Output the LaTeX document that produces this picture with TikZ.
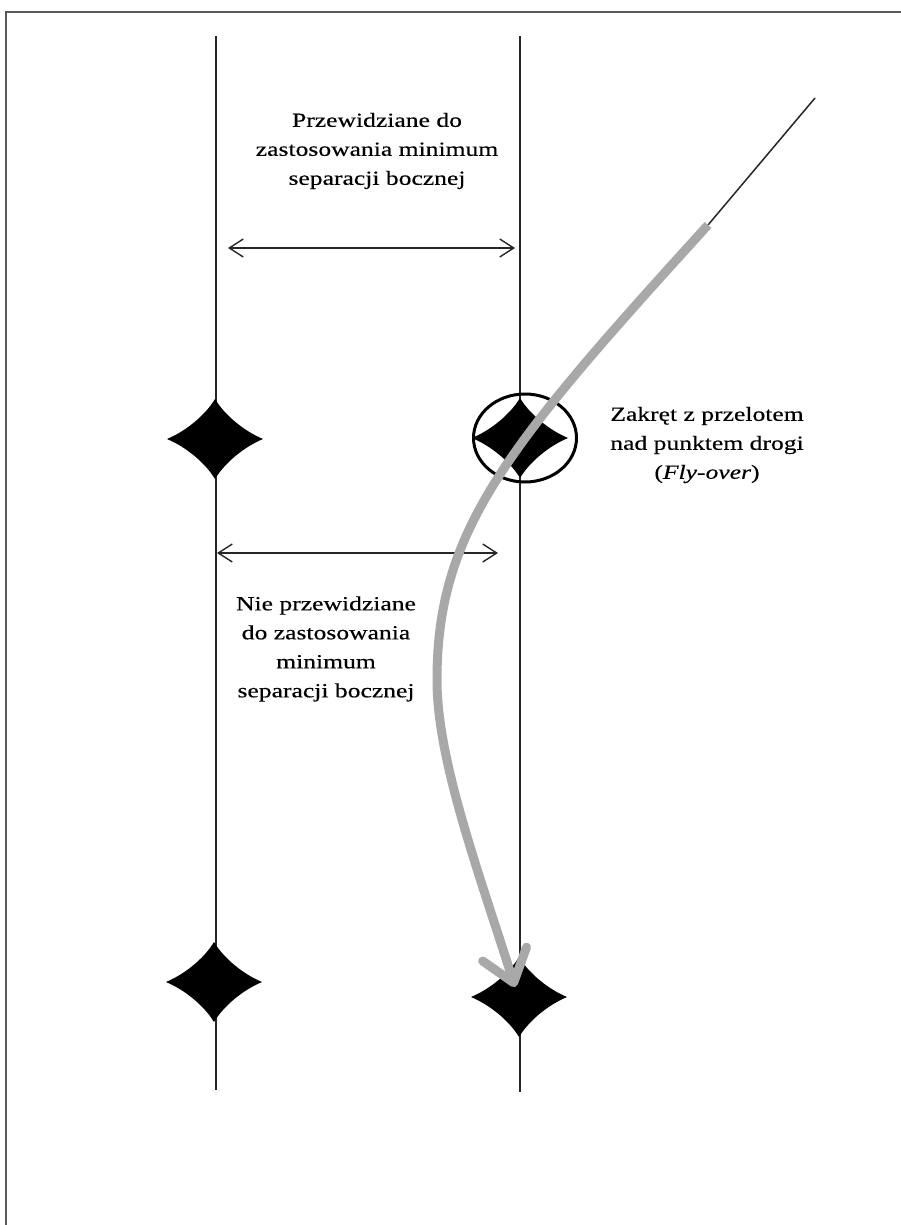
\documentclass[tikz,border=0pt]{standalone}
\usepackage{fontspec}
\setmainfont{Liberation Serif}[FakeStretch=1.28,FakeBold=0.4]
\usetikzlibrary{arrows.meta,shapes.geometric}
\definecolor{flightgray}{RGB}{168,168,168}
\definecolor{framegray}{RGB}{90,90,90}
\begin{document}
\begin{tikzpicture}[x=1pt,y=-1pt,
  route/.style={line width=1.4pt, draw=black!85},
  sep/.style={line width=1.4pt, draw=black!85,
    {Straight Barb[length=14pt,width=18pt]}-{Straight Barb[length=14pt,width=18pt]}},
  lbl/.style={font=\fontsize{20}{29}\selectfont, align=center, inner sep=0pt},
  flight/.style={line width=9pt, draw=flightgray},
  wpt/.pic={\fill[black] (0,-40) .. controls (9.6,-24) and (28.8,-8) .. (48,0)
      .. controls (28.8,8) and (9.6,24) .. (0,40)
      .. controls (-9.6,24) and (-28.8,8) .. (-48,0)
      .. controls (-28.8,-8) and (-9.6,-24) .. cycle;}]
\useasboundingbox (0,0) rectangle (901,1225);
% frame
\coordinate (f0) at (901,12);
\coordinate (f1) at (6,12);
\coordinate (f2) at (6,1225);
\draw[line width=2pt, draw=framegray] (f0) -- (f1) -- (f2);
% routes
\coordinate (L0) at (216,36);
\coordinate (L1) at (216,1090);
\coordinate (R0) at (520,36);
\coordinate (R1) at (520,1092);
\draw[route] (L0) -- (L1);
\draw[route] (R0) -- (R1);
% waypoints
\coordinate (wL1) at (215,439);
\coordinate (wR1) at (520,438);
\coordinate (wL2) at (214,982);
\coordinate (wR2) at (519,997);
\pic at (wL1) {wpt};
\pic at (wR1) {wpt};
\pic at (wL2) {wpt};
\pic at (wR2) {wpt};
\node[draw, ellipse, line width=3pt, minimum width=103pt, minimum height=88pt, inner sep=0pt] (fo) at (525,438) {};
% separation arrows
\coordinate (a0) at (228,248);
\coordinate (a1) at (515,248);
\draw[sep] (a0) -- (a1);
\coordinate (b0) at (217,553);
\coordinate (b1) at (498,553);
\draw[sep] (b0) -- (b1);
% labels
\node[lbl] (t1) at (377,151) {Przewidziane do\\zastosowania minimum\\separacji bocznej};
\node[lbl] (t2) at (707,445) {Zakręt z przelotem\\nad punktem drogi\\(\textit{Fly-over})};
\node[lbl] (t3) at (326,649) {Nie przewidziane\\do zastosowania\\minimum\\separacji bocznej};
% flight path
\coordinate (p0) at (815,98);
\coordinate (p1) at (708,225);
\coordinate (pm) at (437,680);
\coordinate (p2) at (515,987);
\draw[line width=1.5pt, draw=black!85] (p0) -- (p1);
\draw[flight, -{Straight Barb[length=30pt,width=46pt,round]}]
  (p1) .. controls (506,447) and (437,530) .. (pm)
  .. controls (437,760) and (478,870) .. (p2);
\end{tikzpicture}
\end{document}
